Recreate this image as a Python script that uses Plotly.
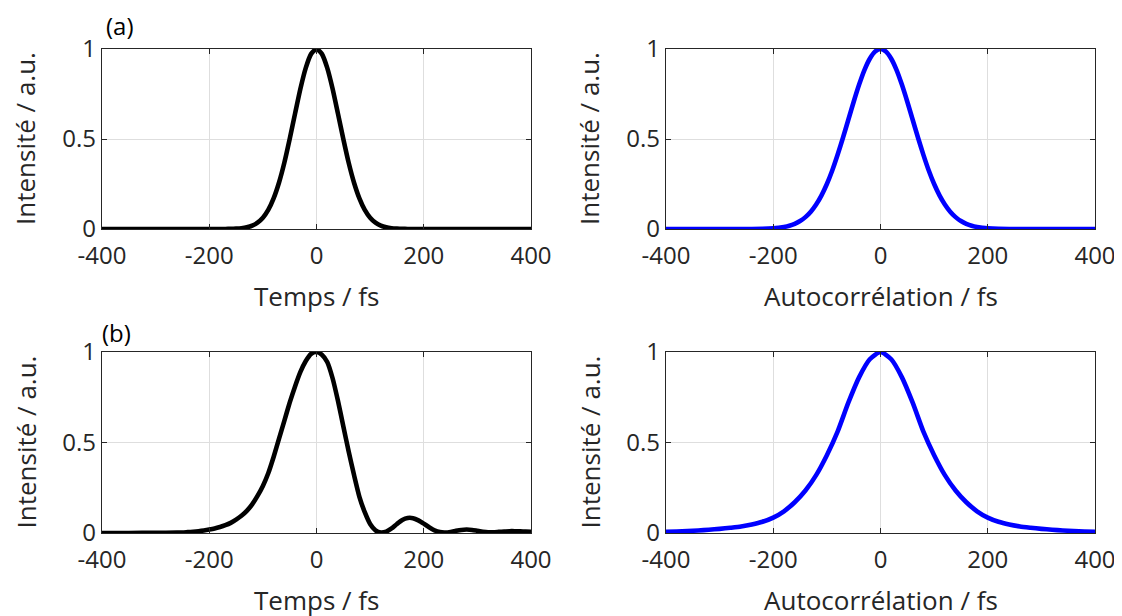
import plotly.graph_objects as go

# ---------------- data ----------------
# (a) temporal intensity
t_a = [-400, -300, -200, -190, -180, -170, -160, -150, -140, -130, -120, -110, -100,
       -90, -80, -70, -60, -50, -40, -30, -20, -10, 0, 10, 20, 30, 40, 50, 60, 70, 80,
       90, 100, 110, 120, 130, 140, 150, 160, 170, 180, 190, 200, 300, 400]
i_a = [0, 0, 0, 0, 0.0001, 0.0003, 0.0008, 0.002, 0.0044, 0.0093, 0.0185, 0.035, 0.0625,
       0.106, 0.170, 0.257, 0.368, 0.500, 0.641, 0.779, 0.895, 0.973, 1.0, 0.973, 0.895,
       0.779, 0.641, 0.500, 0.368, 0.257, 0.170, 0.106, 0.0625, 0.035, 0.0185, 0.0093,
       0.0044, 0.002, 0.0008, 0.0003, 0.0001, 0, 0, 0, 0]

# (a) autocorrelation
tau_a = [-400, -300, -240, -220, -200, -190, -180, -170, -160, -150, -140, -130, -120,
         -110, -100, -90, -80, -70, -60, -50, -40, -30, -20, -10, 0, 10, 20, 30, 40, 50,
         60, 70, 80, 90, 100, 110, 120, 130, 140, 150, 160, 170, 180, 190, 200, 220, 240,
         300, 400]
ac_a = [0, 0, 0, 0.001, 0.004, 0.007, 0.011, 0.018, 0.029, 0.044, 0.066, 0.096, 0.136,
        0.187, 0.250, 0.325, 0.412, 0.507, 0.607, 0.707, 0.801, 0.883, 0.946, 0.986, 1.0,
        0.986, 0.946, 0.883, 0.801, 0.707, 0.607, 0.507, 0.412, 0.325, 0.250, 0.187,
        0.136, 0.096, 0.066, 0.044, 0.029, 0.018, 0.011, 0.007, 0.004, 0.001, 0, 0, 0]

# (b) temporal intensity (asymmetric, with side lobes)
t_b = [-400, -350, -300, -260, -250, -240, -230, -220, -210, -200, -190, -180, -170,
       -160, -150, -140, -130, -120, -110, -100, -90, -80, -70, -60, -50, -40, -30, -20,
       -10, 0, 10, 20, 30, 40, 50, 60, 70, 80, 90, 100, 110, 120, 130, 140, 150, 160,
       170, 180, 190, 200, 210, 220, 230, 240, 250, 260, 270, 280, 290, 300, 310, 320,
       330, 340, 350, 360, 370, 380, 390, 400]
i_b = [0, 0, 0.001, 0.002, 0.003, 0.005, 0.007, 0.010, 0.014, 0.019, 0.025, 0.033, 0.043,
       0.056, 0.074, 0.095, 0.122, 0.158, 0.205, 0.260, 0.330, 0.420, 0.520, 0.620, 0.720,
       0.810, 0.890, 0.950, 0.990, 1.0, 0.985, 0.945, 0.855, 0.730, 0.590, 0.450, 0.320,
       0.200, 0.115, 0.050, 0.015, 0.003, 0.008, 0.025, 0.050, 0.072, 0.083, 0.082, 0.070,
       0.052, 0.032, 0.015, 0.005, 0.003, 0.006, 0.012, 0.017, 0.019, 0.017, 0.012, 0.007,
       0.004, 0.004, 0.006, 0.008, 0.010, 0.010, 0.009, 0.008, 0.007]

# (b) autocorrelation
tau_b = [-400, -380, -360, -340, -320, -300, -280, -260, -240, -220, -200, -180, -160,
         -140, -120, -100, -80, -60, -40, -20, 0, 20, 40, 60, 80, 100, 120, 140, 160, 180,
         200, 220, 240, 260, 280, 300, 320, 340, 360, 380, 400]
ac_b = [0.006, 0.008, 0.011, 0.014, 0.018, 0.023, 0.029, 0.036, 0.047, 0.062, 0.085,
        0.120, 0.170, 0.235, 0.320, 0.430, 0.560, 0.720, 0.860, 0.960, 1.0, 0.960, 0.860,
        0.720, 0.560, 0.430, 0.320, 0.235, 0.170, 0.120, 0.085, 0.062, 0.047, 0.036,
        0.029, 0.023, 0.018, 0.014, 0.011, 0.008, 0.006]

x_ticks = [-400, -200, 0, 200, 400]
y_ticks = [0, 0.5, 1]
y_title = "Intensité / a.u."
x_title_time = "Temps / fs"
x_title_ac = "Autocorrélation / fs"
panel_labels = ["(a)", "(b)"]

# ---------------- figure ----------------
# the page body has an 8 px margin, so the figure is 8 px smaller and shifted
OFF = 8
W, H = 1122 - OFF, 616 - OFF
FONT = "Open Sans"
TXT = "#262626"
GRID = "#dedede"

fig = go.Figure()

panels = [
    (t_a, i_a, "black", "x", "y", x_title_time),
    (tau_a, ac_a, "#0000ff", "x2", "y2", x_title_ac),
    (t_b, i_b, "black", "x3", "y3", x_title_time),
    (tau_b, ac_b, "#0000ff", "x4", "y4", x_title_ac),
]
for xs, ys, col, xa, ya, _ in panels:
    fig.add_trace(go.Scatter(x=xs, y=ys, mode="lines", xaxis=xa, yaxis=ya,
                             line=dict(color=col, width=4.6, shape="spline", smoothing=0.6),
                             showlegend=False, hoverinfo="skip"))

# pixel boxes of the four axes in window coordinates (left, right, top, bottom)
boxes = [(102, 531, 49, 229), (666, 1095, 49, 229),
         (102, 531, 352, 533), (666, 1095, 352, 533)]


def px(v):
    return (v - OFF) / W


def py(v):
    return 1 - (v - OFF) / H


layout = dict(width=W, height=H, margin=dict(l=0, r=0, t=0, b=0, autoexpand=False),
              template="none",
              paper_bgcolor="white", plot_bgcolor="white",
              font=dict(family=FONT, color=TXT, size=24))

annotations = []
for k, ((l, r, t, b), p) in enumerate(zip(boxes, panels)):
    sfx = "" if k == 0 else str(k + 1)
    common = dict(showline=True, linecolor=TXT, linewidth=1.2, mirror="ticks",
                  ticks="inside", ticklen=5, tickwidth=1.2, tickcolor=TXT,
                  showgrid=True, gridcolor=GRID, gridwidth=1, zeroline=False,
                  automargin=False,
                  tickfont=dict(family=FONT, size=24, color=TXT))
    layout["xaxis" + sfx] = dict(common, domain=[px(l), px(r)], range=[-400, 400],
                                 tickvals=x_ticks, ticktext=[str(v) for v in x_ticks],
                                 anchor="y" + sfx, ticklabelstandoff=5)
    layout["yaxis" + sfx] = dict(common, domain=[py(b), py(t)], range=[0, 1],
                                 tickvals=y_ticks, ticktext=["0", "0.5", "1"],
                                 anchor="x" + sfx, ticklabelstandoff=0)
    # x title (below axis)
    annotations.append(dict(text=p[5], x=px((l + r) / 2), y=py(b + 67),
                            xref="paper", yref="paper", xanchor="center", yanchor="middle",
                            showarrow=False, font=dict(family=FONT, size=26, color=TXT)))
    # y title (rotated, left of axis)
    annotations.append(dict(text=y_title, x=px(l - 77), y=py((t + b) / 2),
                            xref="paper", yref="paper", xanchor="center", yanchor="middle",
                            textangle=-90, showarrow=False,
                            font=dict(family=FONT, size=26, color=TXT)))

annotations.append(dict(text=panel_labels[0], x=px(104), y=py(26), xref="paper",
                        yref="paper", xanchor="left", yanchor="middle", showarrow=False,
                        font=dict(family=FONT, size=24, color="black")))
annotations.append(dict(text=panel_labels[1], x=px(100), y=py(332), xref="paper",
                        yref="paper", xanchor="left", yanchor="middle", showarrow=False,
                        font=dict(family=FONT, size=24, color="black")))
layout["annotations"] = annotations

fig.update_layout(**layout)
fig.write_html("out.html")
